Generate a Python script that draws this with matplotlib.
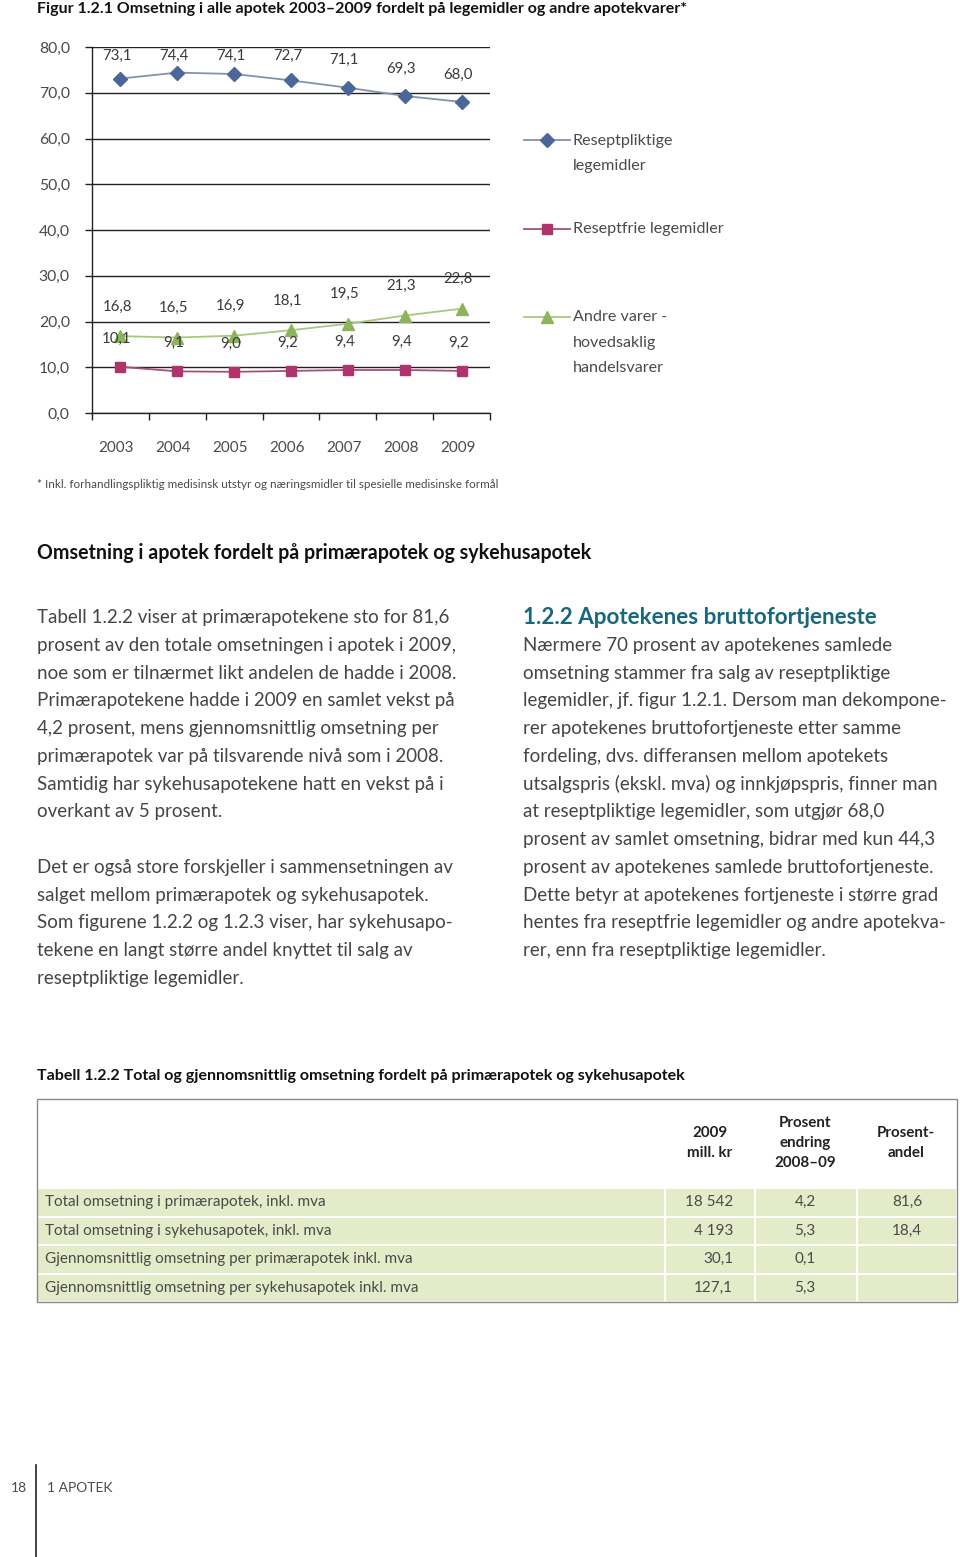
import matplotlib
matplotlib.use("Agg")
import matplotlib.pyplot as plt
from matplotlib.patches import Rectangle
from matplotlib.lines import Line2D

# ---------------- data ----------------
years = ["2003", "2004", "2005", "2006", "2007", "2008", "2009"]
reseptpliktige = [73.1, 74.4, 74.1, 72.7, 71.1, 69.3, 68.0]
reseptfrie = [10.1, 9.1, 9.0, 9.2, 9.4, 9.4, 9.2]
andre_varer = [16.8, 16.5, 16.9, 18.1, 19.5, 21.3, 22.8]
y_ticks = [0, 10, 20, 30, 40, 50, 60, 70, 80]
series_names = ["Reseptpliktige\nlegemidler", "Reseptfrie legemidler",
                "Andre varer -\nhovedsaklig\nhandelsvarer"]

table_rows = ["Total omsetning i primærapotek, inkl. mva",
              "Total omsetning i sykehusapotek, inkl. mva",
              "Gjennomsnittlig omsetning per primærapotek inkl. mva",
              "Gjennomsnittlig omsetning per sykehusapotek inkl. mva"]
table_headers = ["2009\nmill. kr", "Prosent\nendring\n2008–09", "Prosent-\nandel"]
col_mill_kr = ["18 542", "4 193", "30,1", "127,1"]
col_endring = ["4,2", "5,3", "0,1", "5,3"]
col_andel = ["81,6", "18,4", "", ""]

left_text = [
    "Tabell 1.2.2 viser at primærapotekene sto for 81,6",
    "prosent av den totale omsetningen i apotek i 2009,",
    "noe som er tilnærmet likt andelen de hadde i 2008.",
    "Primærapotekene hadde i 2009 en samlet vekst på",
    "4,2 prosent, mens gjennomsnittlig omsetning per",
    "primærapotek var på tilsvarende nivå som i 2008.",
    "Samtidig har sykehusapotekene hatt en vekst på i",
    "overkant av 5 prosent.",
    "",
    "Det er også store forskjeller i sammensetningen av",
    "salget mellom primærapotek og sykehusapotek.",
    "Som figurene 1.2.2 og 1.2.3 viser, har sykehusapo-",
    "tekene en langt større andel knyttet til salg av",
    "reseptpliktige legemidler.",
]
right_text = [
    "Nærmere 70 prosent av apotekenes samlede",
    "omsetning stammer fra salg av reseptpliktige",
    "legemidler, jf. figur 1.2.1. Dersom man dekompone-",
    "rer apotekenes bruttofortjeneste etter samme",
    "fordeling, dvs. differansen mellom apotekets",
    "utsalgspris (ekskl. mva) og innkjøpspris, finner man",
    "at reseptpliktige legemidler, som utgjør 68,0",
    "prosent av samlet omsetning, bidrar med kun 44,3",
    "prosent av apotekenes samlede bruttofortjeneste.",
    "Dette betyr at apotekenes fortjeneste i større grad",
    "hentes fra reseptfrie legemidler og andre apotekva-",
    "rer, enn fra reseptpliktige legemidler.",
]

# ---------------- styling ----------------
FONT = "Lato"
plt.rcParams["font.family"] = [FONT, "DejaVu Sans"]
TXT = "#454545"
BLUE_M, BLUE_L = "#4b6699", "#8590ad"
RED_M, RED_L = "#b1336d", "#a3507a"
GRN_M, GRN_L = "#8db35b", "#a9c87e"
TABLE_GREEN = "#e3ebc8"
BODY_FS = 13.5

W, H = 960, 1557
fig = plt.figure(figsize=(W / 100, H / 100), dpi=100)
fig.patch.set_facecolor("white")


def fx(x):
    return x / W


def fy(y):
    return 1 - y / H


# ---------------- chart ----------------
ax = fig.add_axes([fx(92), fy(413), fx(490) - fx(92), fy(47) - fy(413)])
xs = [i + 0.5 for i in range(len(years))]
ax.plot(xs, reseptpliktige, color=BLUE_L, lw=1.3, marker="D", ms=7,
        mfc=BLUE_M, mec=BLUE_M, zorder=4)
ax.plot(xs, reseptfrie, color=RED_L, lw=1.3, marker="s", ms=7,
        mfc=RED_M, mec=RED_M, zorder=4)
ax.plot(xs, andre_varer, color=GRN_L, lw=1.3, marker="^", ms=8,
        mfc=GRN_M, mec=GRN_M, zorder=4)

lab_kw = dict(ha="center", va="center", fontsize=10.8, color="#3a3a3a", zorder=5)
for x, v in zip(xs, reseptpliktige):
    ax.text(x - 0.06, min(v + 6.0, 78.0), f"{v:.1f}".replace(".", ","), **lab_kw)
for x, v in zip(xs, andre_varer):
    ax.text(x - 0.06, v + 6.5, f"{v:.1f}".replace(".", ","), **lab_kw)
for x, v in zip(xs, reseptfrie):
    ax.text(x - 0.06, v + 6.2, f"{v:.1f}".replace(".", ","), **lab_kw)

ax.set_xlim(0, len(years))
ax.set_ylim(0, 80)
ax.set_yticks(y_ticks)
ax.set_yticklabels([f"{t:.1f}".replace(".", ",") for t in y_ticks])
ax.yaxis.grid(True, color="#222222", lw=1.0)
ax.set_axisbelow(True)
ax.set_xticks(range(len(years) + 1))
ax.set_xticklabels([])
ax.set_xticks([x - 0.07 for x in xs], minor=True)
ax.set_xticklabels(years, minor=True)
ax.tick_params(axis="x", which="major", direction="out", length=5, width=1, color="#222222")
ax.tick_params(axis="x", which="minor", length=0, pad=20, labelsize=11, labelcolor="#4a4a4a")
ax.tick_params(axis="y", direction="out", length=5, width=1, color="#222222",
               pad=11, labelsize=11.3, labelcolor="#4a4a4a")
for s in ["top", "right"]:
    ax.spines[s].set_visible(False)
for s in ["left", "bottom"]:
    ax.spines[s].set_color("#222222")
    ax.spines[s].set_linewidth(1.0)
ax.patch.set_alpha(0)

# ---------------- overlay (page) axes in pixel coords ----------------
lax = fig.add_axes([0, 0, 1, 1], zorder=-1)
lax.set_xlim(0, W)
lax.set_ylim(H, 0)
lax.axis("off")

# legend
leg_items = [(140, [141, 166], BLUE_L, BLUE_M, "D", 7),
             (229, [229], RED_L, RED_M, "s", 7),
             (317, [317, 343, 368], GRN_L, GRN_M, "^", 8)]
for (yl, ylines, lc, mc, mk, ms), name in zip(leg_items, series_names):
    lax.add_line(Line2D([524, 570], [yl, yl], color=lc, lw=1.3))
    lax.add_line(Line2D([547], [yl], marker=mk, ms=ms, mfc=mc, mec=mc, lw=0))
    for yy, part in zip(ylines, name.split("\n")):
        lax.text(573, yy, part, ha="left", va="center", fontsize=11.6, color="#4a4a4a")

# titles
lax.text(37, 9, "Figur 1.2.1 Omsetning i alle apotek 2003–2009 fordelt på legemidler og andre apotekvarer*",
         ha="left", va="center", fontsize=11.55, fontweight="bold", color="#111111")
lax.text(37, 484, "* Inkl. forhandlingspliktig medisinsk utstyr og næringsmidler til spesielle medisinske formål",
         ha="left", va="center", fontsize=8.4, color="#4a4a4a")
lax.text(37, 553, "Omsetning i apotek fordelt på primærapotek og sykehusapotek",
         ha="left", va="center", fontsize=14.1, fontweight="bold", color="#111111")
lax.text(523, 617, "1.2.2 Apotekenes bruttofortjeneste",
         ha="left", va="center", fontsize=16.1, fontweight="bold", color="#17677d")

# body text
y0, dy = 617.5, 27.75
for i, line in enumerate(left_text):
    if line:
        lax.text(37, y0 + i * dy, line, ha="left", va="center", fontsize=BODY_FS, color=TXT)
for i, line in enumerate(right_text):
    lax.text(523, y0 + (i + 1) * dy, line, ha="left", va="center", fontsize=BODY_FS, color=TXT)

# table
lax.text(37, 1076, "Tabell 1.2.2 Total og gjennomsnittlig omsetning fordelt på primærapotek og sykehusapotek",
         ha="left", va="center", fontsize=11.5, fontweight="bold", color="#111111")
col_edges = [37, 665, 755, 857, 957]
row_edges = [1188, 1216.5, 1245, 1273.5, 1302]
for r in range(len(table_rows)):
    for c in range(4):
        lax.add_patch(Rectangle((col_edges[c] + 1, row_edges[r] + 1),
                                col_edges[c + 1] - col_edges[c] - 2,
                                row_edges[r + 1] - row_edges[r] - 2,
                                facecolor=TABLE_GREEN, edgecolor="none", zorder=1))
lax.add_patch(Rectangle((37, 1099), 920, 203, facecolor="none",
                        edgecolor="#8a8a8a", lw=1.0, zorder=3))
head_x = [710, 805, 906]
for hx, head in zip(head_x, table_headers):
    parts = head.split("\n")
    n = len(parts)
    for k, p in enumerate(parts):
        lax.text(hx, 1143 + (k - (n - 1) / 2) * 20, p, ha="center", va="center",
                 fontsize=10.9, fontweight="bold", color="#222222", zorder=4)
for r in range(len(table_rows)):
    yc = (row_edges[r] + row_edges[r + 1]) / 2
    kw = dict(va="center", fontsize=11.0, color="#4a4a4a", zorder=4)
    lax.text(45, yc, table_rows[r], ha="left", **kw)
    lax.text(733, yc, col_mill_kr[r], ha="right", **kw)
    lax.text(805, yc, col_endring[r], ha="center", **kw)
    lax.text(907, yc, col_andel[r], ha="center", **kw)

# footer
lax.add_line(Line2D([36, 36], [1465, 1557], color="#222222", lw=1.2))
lax.text(11, 1488, "18", ha="left", va="center", fontsize=10, color="#4a4a4a")
lax.text(47, 1488, "1 APOTEK", ha="left", va="center", fontsize=10, color="#4a4a4a")

fig.savefig("out.png", dpi=100, facecolor="white")
